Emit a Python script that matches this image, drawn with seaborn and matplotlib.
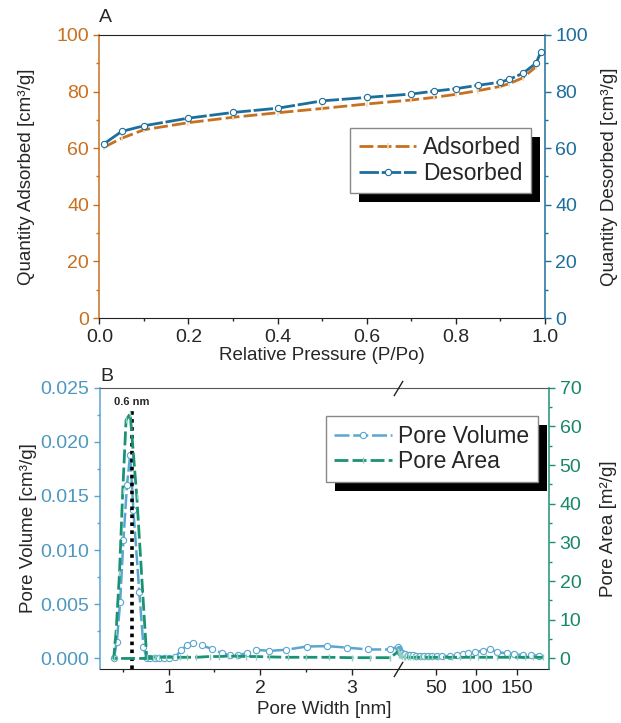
import numpy as np
import matplotlib
matplotlib.use("Agg")
import matplotlib.pyplot as plt
import seaborn as sns
from matplotlib.patches import Rectangle
from matplotlib.transforms import IdentityTransform
from matplotlib.ticker import FixedLocator, MultipleLocator

sns.set_style("ticks")
plt.rcParams["font.family"] = ["Liberation Sans", "DejaVu Sans"]

# ---- A: isotherm ----
p_ads = [0.01, 0.05, 0.10, 0.20, 0.30, 0.40, 0.50, 0.60, 0.70, 0.75, 0.80, 0.85, 0.90, 0.92, 0.95, 0.98]
q_ads = [60.3, 63.5, 66.5, 69.0, 70.9, 72.5, 74.0, 75.6, 77.0, 77.9, 79.0, 80.3, 81.8, 82.8, 84.8, 88.8]
p_des = [0.01, 0.05, 0.10, 0.20, 0.30, 0.40, 0.50, 0.60, 0.70, 0.75, 0.80, 0.85, 0.90, 0.92, 0.95, 0.98, 0.99]
q_des = [61.5, 65.9, 67.9, 70.6, 72.6, 74.1, 76.7, 77.9, 79.1, 80.1, 81.0, 82.2, 83.3, 84.3, 86.4, 90.0, 93.8]

# ---- B: pore size distribution ----
pv_width = [0.40, 0.434, 0.47, 0.506, 0.545, 0.58, 0.615, 0.68, 0.725, 0.76, 0.80, 0.85, 0.90, 0.95,
            1.00, 1.07, 1.14, 1.20, 1.27, 1.36, 1.47, 1.58, 1.67, 1.76, 1.86, 1.96, 2.10, 2.28,
            2.51, 2.73, 2.95, 3.18, 3.42,
            3.6, 4.0, 4.5, 5.0, 6.0, 7.0, 8.0, 10, 12, 15, 18, 22, 26, 30, 35, 40, 45, 51, 58,
            68, 76, 84, 90, 98, 108, 117, 125, 138, 146, 157, 167, 177]
pv_volume = [0.0, 0.0015, 0.0052, 0.0109, 0.0160, 0.0188, 0.0137, 0.0061, 0.0011, 0.0, 0.0, 0.0, 0.0, 0.0,
             0.0, 0.0001, 0.0008, 0.0012, 0.00144, 0.0012, 0.0009, 0.0005, 0.0003, 0.0003, 0.0005, 0.0008, 0.0007, 0.0008,
             0.0011, 0.00114, 0.0010, 0.00083, 0.00083,
             0.0011, 0.0009, 0.0008, 0.0007, 0.0006, 0.0005, 0.0005, 0.0004, 0.0004, 0.0003, 0.0003, 0.0003, 0.0002, 0.0002,
             0.0002, 0.0002, 0.0002, 0.0002, 0.0002,
             0.0002, 0.0003, 0.0004, 0.0005, 0.0006, 0.0007, 0.00083, 0.0006, 0.00046, 0.0004, 0.0003, 0.0003, 0.00025]

pa_width = [0.83, 0.40, 0.426, 0.463, 0.499, 0.535, 0.58, 0.652, 0.76, 0.85, 0.90, 0.97, 1.05, 1.12,
            1.20, 1.30, 1.45, 1.55, 1.65, 1.75, 1.85, 1.95, 2.10, 2.30, 2.50, 2.75, 3.00, 3.20, 3.42,
            3.6, 4.0, 4.5, 5.0, 6.0, 7.0, 8.0, 10, 12, 15, 18, 22, 26, 30, 35, 40, 45, 52,
            60, 70, 80, 92, 102, 112, 125, 140, 150, 160, 170, 182]
pa_area = [0.0, 0.0, 6.9, 22.0, 43.4, 61.6, 63.3, 42.0, 0.5, 0.3, 0.3, 0.3, 0.3, 0.3,
           0.3, 0.3, 0.5, 0.5, 0.6, 0.6, 0.5, 0.5, 0.4, 0.3, 0.3, 0.3, 0.2, 0.2, 0.2,
           1.8, 1.5, 1.2, 1.0, 0.8, 0.7, 0.6, 0.5, 0.4, 0.4, 0.3, 0.3, 0.3, 0.3, 0.3, 0.3, 0.3, 0.3,
           0.3, 0.3, 0.3, 0.3, 0.3, 0.3, 0.3, 0.3, 0.3, 0.3, 0.3, 0.3]

peak_width = 0.6
x_ticks = [1, 2, 3, 50, 100, 150]

ORANGE = "#c8701e"
BLUE = "#1c6e9c"
LBLUE = "#5aa6d0"
TEAL = "#1a9274"

TICK_FS = 14
LABEL_FS = 13.5
LEG_FS = 16.5

# broken x axis: linear up to BRK, compressed beyond
BRK = 3.51
K = 0.00885


def fwd(x):
    x = np.asarray(x, dtype=float)
    return np.where(x <= BRK, x, BRK + (x - BRK) * K)


def inv(y):
    y = np.asarray(y, dtype=float)
    return np.where(y <= BRK, y, BRK + (y - BRK) / K)


def add_shadow(ax, leg, off=9):
    fig.canvas.draw()
    bb = leg.get_window_extent()
    sh = Rectangle((bb.x0 + off, bb.y0 - off), bb.width, bb.height, transform=IdentityTransform(),
                   facecolor="black", edgecolor="none", zorder=leg.get_zorder() - 0.5, clip_on=False)
    ax.add_artist(sh)


def style_axis(ax, side, color):
    ax.tick_params(axis="y", which="major", direction="out", length=4, width=1,
                   colors=color, labelsize=TICK_FS, labelcolor=color)
    ax.tick_params(axis="y", which="minor", direction="out", length=2.5, width=1, colors=color)
    ax.spines[side].set_color(color)
    ax.spines[side].set_linewidth(1.1)


fig = plt.figure(figsize=(6.21, 7.23), dpi=100)

# ================= A =================
axA = fig.add_axes([0.160, 0.560, 0.7177, 0.3918])
axA2 = axA.twinx()

sns.lineplot(x=p_ads, y=q_ads, ax=axA, color=ORANGE, lw=2, linestyle=(0, (5, 1.5)),
             marker="|", markersize=5, markeredgecolor="#f2dcc6", mew=1.2,
             estimator=None, sort=False, label="Adsorbed")
sns.lineplot(x=p_des, y=q_des, ax=axA2, color=BLUE, lw=2, linestyle=(0, (7, 1)),
             marker="o", markersize=4.5, markerfacecolor="white", markeredgecolor=BLUE, mew=0.8,
             estimator=None, sort=False, label="Desorbed")

axA.set_xlim(0, 1.0)
axA.set_ylim(0, 100)
axA2.set_ylim(0, 100)
axA.xaxis.set_major_locator(MultipleLocator(0.2))
axA.xaxis.set_minor_locator(MultipleLocator(0.1))
axA.yaxis.set_major_locator(MultipleLocator(20))
axA.yaxis.set_minor_locator(MultipleLocator(10))
axA2.yaxis.set_major_locator(MultipleLocator(20))
axA2.yaxis.set_minor_locator(MultipleLocator(10))
axA.xaxis.set_major_formatter(lambda v, pos: f"{v:.1f}")
axA.tick_params(axis="x", which="major", direction="out", length=4, width=1, labelsize=TICK_FS)
axA.tick_params(axis="x", which="minor", direction="out", length=2.5, width=1)
style_axis(axA, "left", ORANGE)
style_axis(axA2, "right", BLUE)
for s in ["left", "top", "bottom"]:
    axA2.spines[s].set_visible(False)
axA.spines["right"].set_visible(False)
axA.spines["top"].set_color("#222222")
axA.spines["bottom"].set_color("#222222")
axA.set_xlabel("Relative Pressure (P/Po)", fontsize=LABEL_FS, labelpad=1)
axA.set_ylabel("Quantity Adsorbed [cm³/g]", fontsize=LABEL_FS, labelpad=15)
axA2.set_ylabel("Quantity Desorbed [cm³/g]", fontsize=LABEL_FS, labelpad=9)
axA.text(0.0, 1.03, "A", transform=axA.transAxes, fontsize=14, ha="left", va="bottom")

for a in (axA, axA2):
    if a.get_legend() is not None:
        a.get_legend().remove()
hA = axA.get_lines()[:1] + axA2.get_lines()[:1]
legA = axA2.legend(hA, ["Adsorbed", "Desorbed"], loc="upper right", bbox_to_anchor=(0.969, 0.672),
                   borderaxespad=0, fontsize=LEG_FS, frameon=True, fancybox=False, framealpha=1,
                   edgecolor="#888888", handlelength=2.5, handletextpad=0.3, borderpad=0.38,
                   labelspacing=0.1)
legA.get_frame().set_linewidth(1)

# ================= B =================
axB = fig.add_axes([0.161, 0.0743, 0.7235, 0.3895])
axB2 = axB.twinx()
axB.set_xscale("function", functions=(fwd, inv))

sns.lineplot(x=pv_width, y=pv_volume, ax=axB, color=LBLUE, lw=1.8, linestyle=(0, (6, 1.5)),
             marker="o", markersize=4.5, markerfacecolor="white", markeredgecolor=LBLUE, mew=0.8,
             estimator=None, sort=False, label="Pore Volume")
sns.lineplot(x=pa_width, y=pa_area, ax=axB2, color=TEAL, lw=2, linestyle=(0, (5, 1.5)),
             marker="|", markersize=5, markeredgecolor="#8fd0be", mew=1.0,
             estimator=None, sort=False, label="Pore Area")

axB.set_xlim(0.25, 190)
axB.set_ylim(-0.001, 0.025)
axB2.set_ylim(-2.8, 70)
axB.xaxis.set_major_locator(FixedLocator(x_ticks))
axB.xaxis.set_minor_locator(FixedLocator([0.5, 1.5, 2.5]))
axB.xaxis.set_major_formatter(lambda v, pos: f"{v:g}")
axB.yaxis.set_major_locator(MultipleLocator(0.005))
axB.yaxis.set_minor_locator(MultipleLocator(0.0025))
axB.yaxis.set_major_formatter(lambda v, pos: f"{v:.3f}")
axB2.yaxis.set_major_locator(MultipleLocator(10))
axB2.yaxis.set_minor_locator(MultipleLocator(5))
axB.tick_params(axis="x", which="major", direction="out", length=4, width=1, labelsize=TICK_FS)
axB.tick_params(axis="x", which="minor", direction="out", length=2.5, width=1)
style_axis(axB, "left", LBLUE)
style_axis(axB2, "right", TEAL)
axB.tick_params(axis="y", labelcolor="#4e98c0")
axB2.tick_params(axis="y", labelcolor="#17876a")
for s in ["left", "top", "bottom"]:
    axB2.spines[s].set_visible(False)
axB.spines["right"].set_visible(False)
axB.spines["top"].set_color("#555555")
axB.spines["bottom"].set_color("#222222")
axB.set_xlabel("Pore Width [nm]", fontsize=LABEL_FS, labelpad=3)
axB.set_ylabel("Pore Volume [cm³/g]", fontsize=LABEL_FS, labelpad=3)
axB2.set_ylabel("Pore Area [m²/g]", fontsize=LABEL_FS, labelpad=13)
axB.text(0.0, 1.01, "B", transform=axB.transAxes, fontsize=14, ha="left", va="bottom")

# peak marker
axB.plot([peak_width, peak_width], [-0.001, 0.0232], color="black", lw=2.6, linestyle=(0, (1, 1.2)), zorder=5)
axB.text(peak_width, 0.0237, "0.6 nm", fontsize=8, fontweight="bold", ha="center", va="center")

# break marks on top/bottom spines
axB.plot([BRK, BRK], [0, 1], transform=axB.get_xaxis_transform(), marker=[(-0.6, -1), (0.6, 1)],
         markersize=11, linestyle="none", color="#222222", mew=1, clip_on=False, zorder=6)

for a in (axB, axB2):
    if a.get_legend() is not None:
        a.get_legend().remove()
hB = axB.get_lines()[:1] + axB2.get_lines()[:1]
legB = axB2.legend(hB, ["Pore Volume", "Pore Area"], loc="upper right", bbox_to_anchor=(0.9755, 0.8995),
                   borderaxespad=0, fontsize=LEG_FS, frameon=True, fancybox=False, framealpha=1,
                   edgecolor="#888888", handlelength=2.5, handletextpad=0.3, borderpad=0.38,
                   labelspacing=0.1)
legB.get_frame().set_linewidth(1)

add_shadow(axA2, legA)
add_shadow(axB2, legB)

fig.savefig("out.png", dpi=100)
